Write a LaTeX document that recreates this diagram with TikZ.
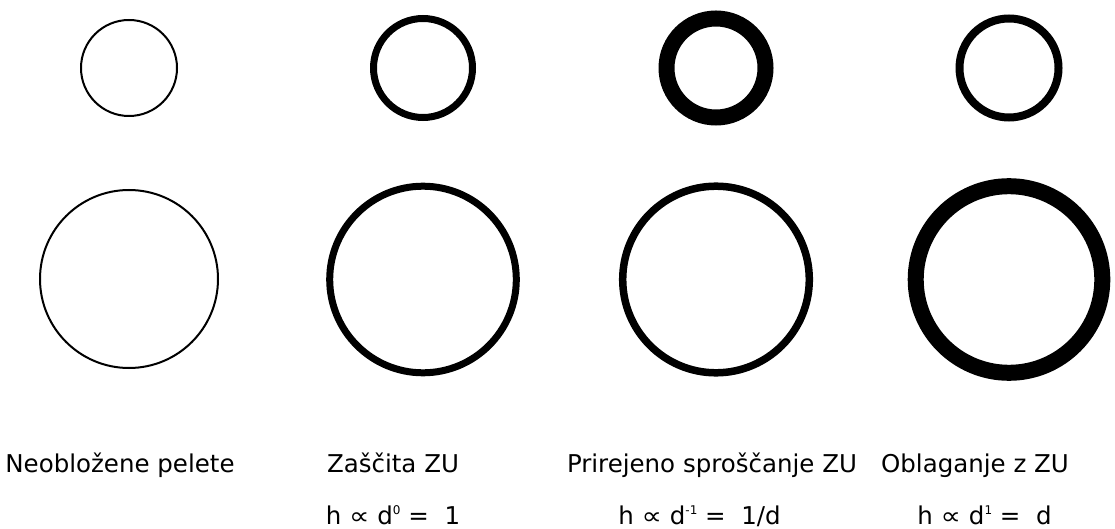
\documentclass[tikz,border=0pt]{standalone}
\usepackage{fontspec}
\setmainfont{DejaVu Sans}
\newcommand\pw[1]{\raisebox{10pt}{\fontsize{12}{12}\selectfont #1}}
\newcommand\prop{\scalebox{1.3}[1.1]{\fontsize{22}{22}\selectfont ∝}}

\begin{document}
\begin{tikzpicture}[
    x=1pt, y=-1pt,
    pellet/.style={draw=black},
    label/.style={anchor=base, font=\fontsize{24.5}{28}\selectfont},
  ]
  \useasboundingbox (0,0) rectangle (1115,529);

  % --- uncoated pellets ------------------------------------------------------
  \draw[pellet, line width=2pt] (129,68) circle (48);
  \draw[pellet, line width=2pt] (129,279) circle (89);

  % --- coated pellets: centre x / small ring width / large ring width -------
  \foreach \cx/\ws/\wl in {423/7/7, 716/16/7.5, 1009/8/16} {
    \draw[pellet, line width=\ws pt] (\cx,68) circle (49.5);
    \draw[pellet, line width=\wl pt] (\cx,279.5) circle (93.3);
  }

  % --- captions --------------------------------------------------------------
  \node[label] (lab1) at (120,472.7) {Neobložene pelete};
  \node[label] (lab2) at (393,472.7) {Zaščita ZU};
  \node[label] (lab3) at (712,472.7) {Prirejeno sproščanje ZU};
  \node[label] (lab4) at (975,472.7) {Oblaganje z ZU};

  % --- thickness laws --------------------------------------------------------
  \node[label] (law2) at (393,524) {h \prop{} d\pw{0} = \ 1};
  \node[label] (law3) at (699.5,524) {h \prop{} d\pw{-1} = \ 1/d};
  \node[label] (law4) at (984.5,524) {h \prop{} d\pw{1} = \ d};

\end{tikzpicture}
\end{document}
